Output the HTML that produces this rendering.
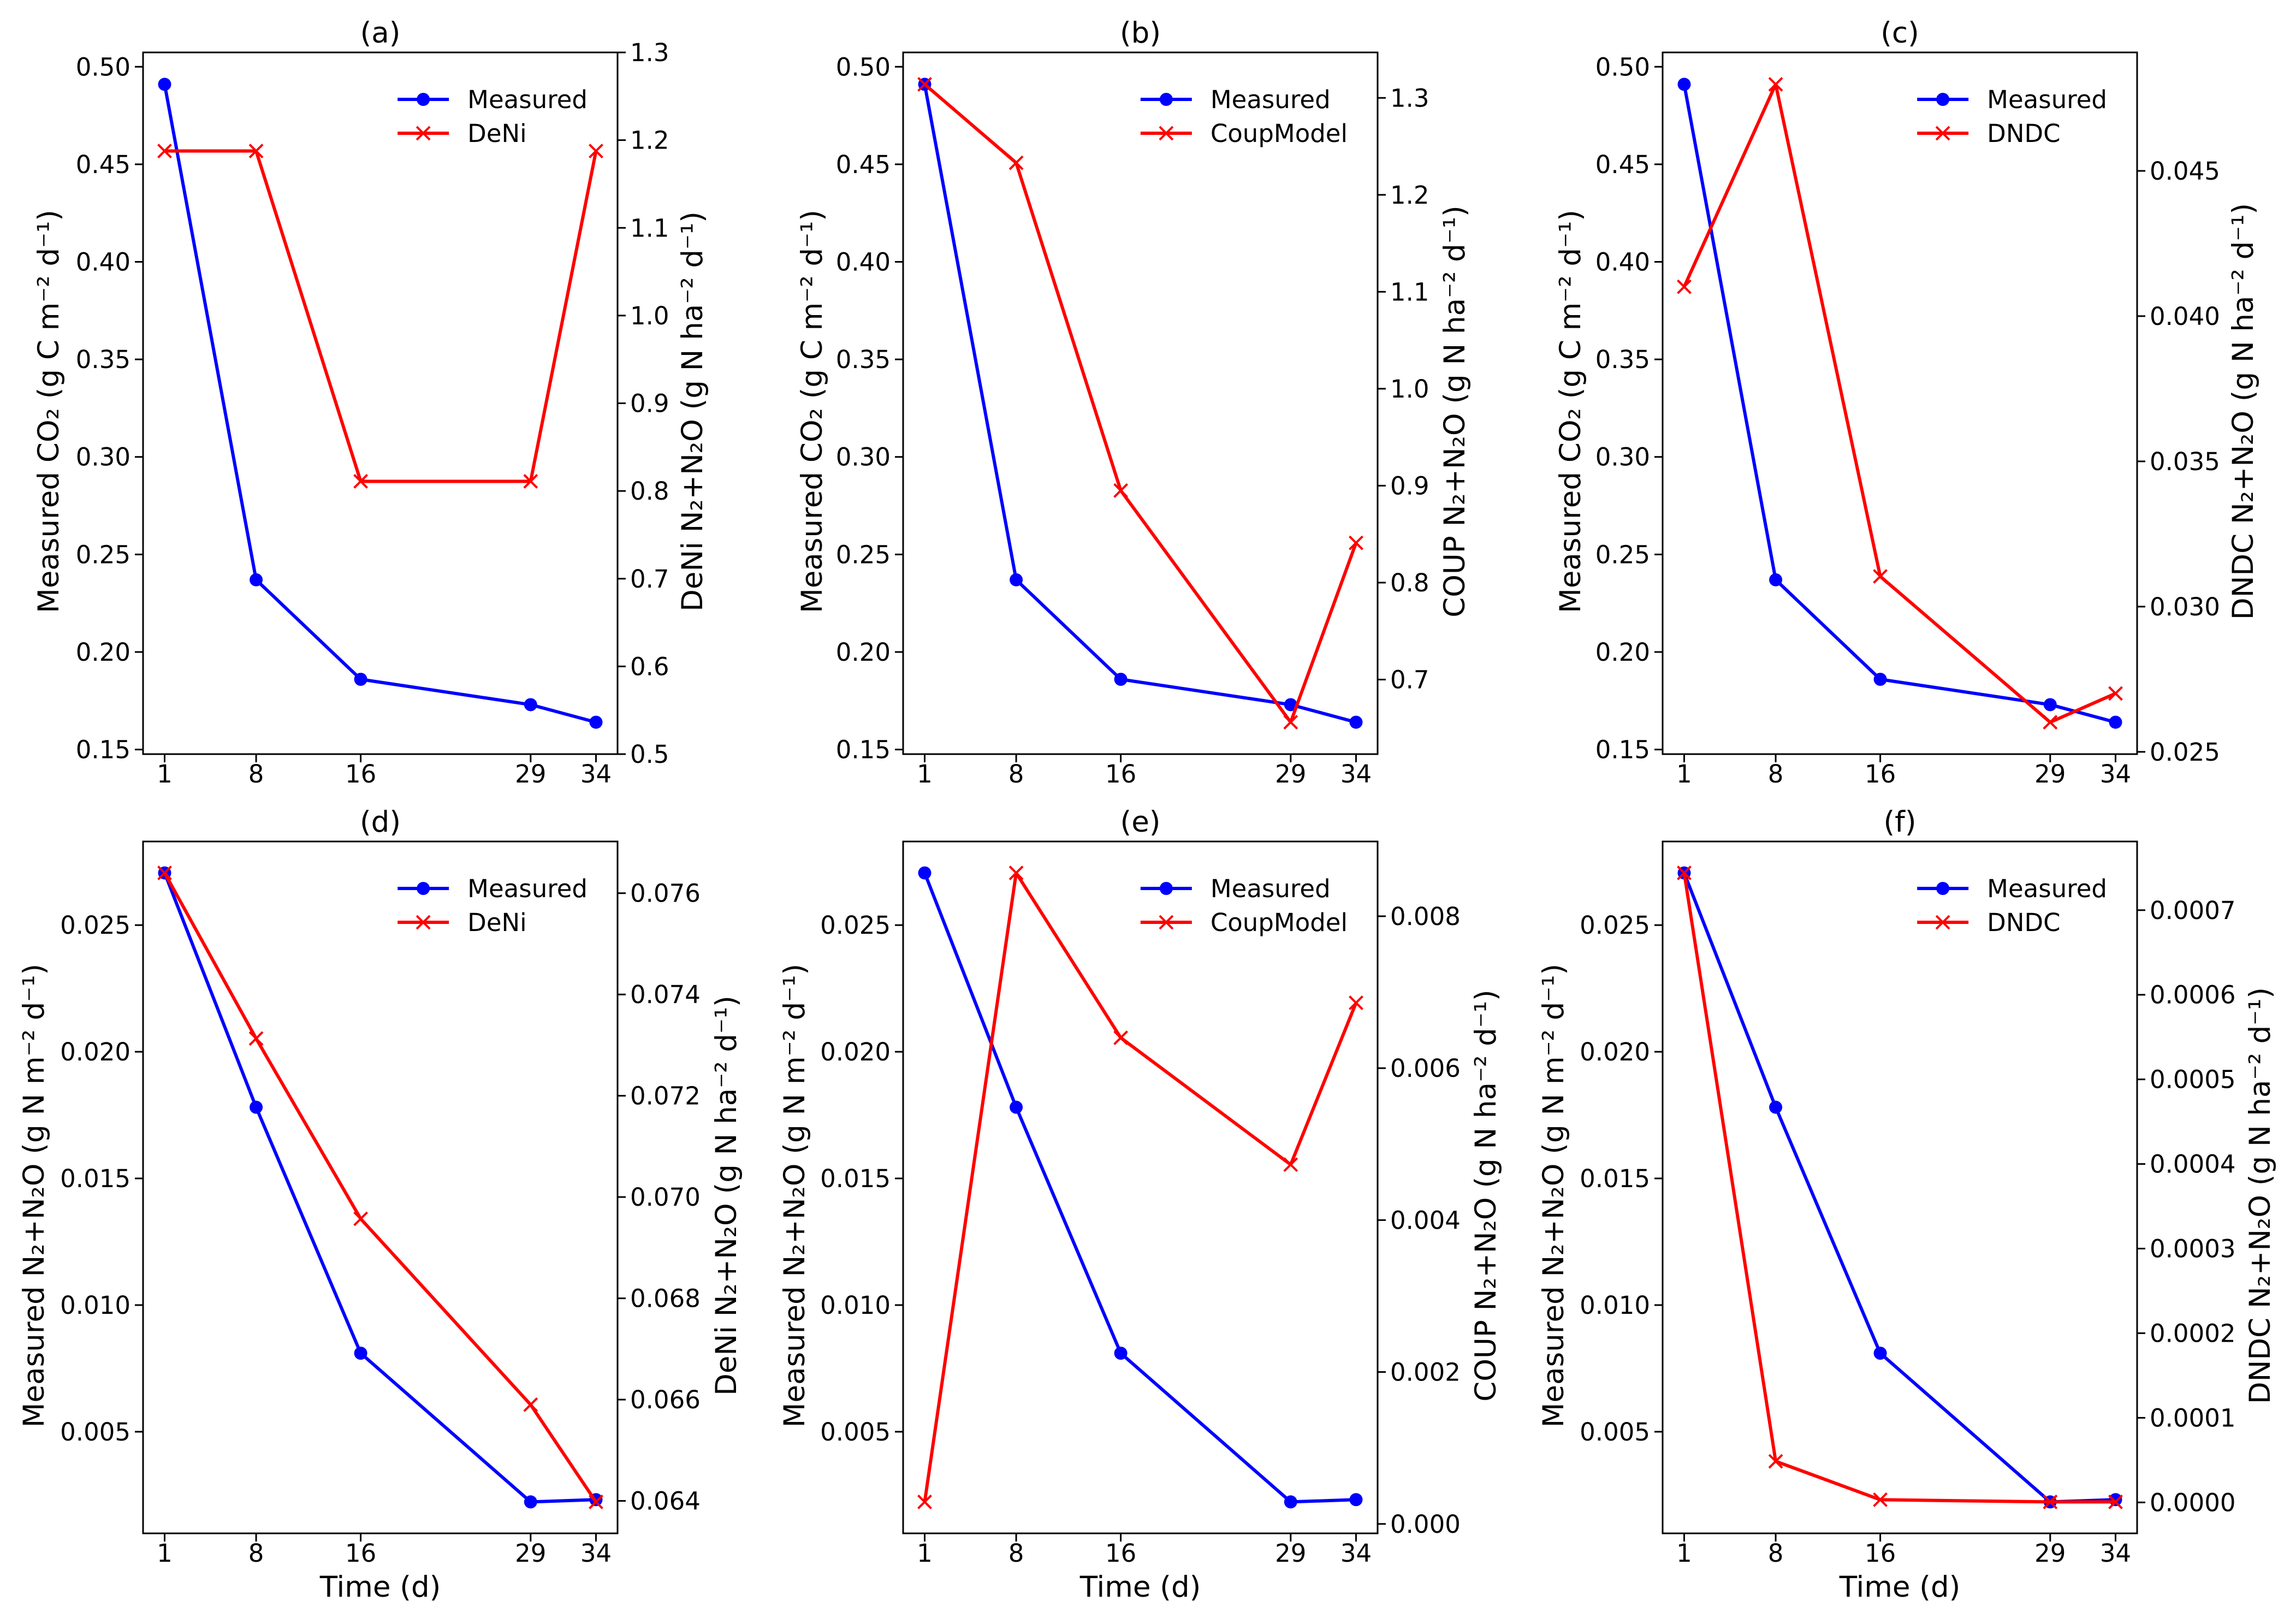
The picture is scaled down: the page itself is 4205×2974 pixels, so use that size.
<!DOCTYPE html>
<html><head><meta charset="utf-8"><style>html,body{margin:0;padding:0;background:#fff}svg{display:block}text{font-family:"DejaVu Sans","Liberation Sans",sans-serif;fill:#000}</style></head>
<body>
<svg id="fig" xmlns="http://www.w3.org/2000/svg" width="4205" height="2974" viewBox="0 0 4205 2974"></svg>
<script>
const days = [1, 8, 16, 29, 34];
const measuredCO2 = [0.491, 0.237, 0.186, 0.173, 0.164];
const measuredN = [0.02706, 0.01781, 0.0081, 0.00223, 0.00232];
const deniCO2 = [1.1876, 1.1876, 0.811, 0.811, 1.1876];
const coupCO2 = [1.314, 1.233, 0.895, 0.656, 0.841];
const dndcCO2 = [0.04101, 0.04798, 0.03104, 0.02602, 0.02701];
const deniN = [0.0764, 0.07313, 0.06957, 0.0659, 0.06398];
const coupN = [0.00029, 0.00857, 0.0064, 0.00473, 0.00686];
const dndcN = [0.000744, 0.0000486, 0.0000032, 0.0000006, 0.0000006];
const ticksCO2 = [0.15, 0.20, 0.25, 0.30, 0.35, 0.40, 0.45, 0.50];
const ticksN = [0.005, 0.010, 0.015, 0.020, 0.025];
const ticksDeniCO2 = [0.5, 0.6, 0.7, 0.8, 0.9, 1.0, 1.1, 1.2, 1.3];
const ticksCoupCO2 = [0.7, 0.8, 0.9, 1.0, 1.1, 1.2, 1.3];
const ticksDndcCO2 = [0.025, 0.030, 0.035, 0.040, 0.045];
const ticksDeniN = [0.064, 0.066, 0.068, 0.070, 0.072, 0.074, 0.076];
const ticksCoupN = [0.000, 0.002, 0.004, 0.006, 0.008];
const ticksDndcN = [0.0000, 0.0001, 0.0002, 0.0003, 0.0004, 0.0005, 0.0006, 0.0007];

const NS = "http://www.w3.org/2000/svg";
const svg = document.getElementById('fig');
function mk(tag, attrs, parent) {
  const e = document.createElementNS(NS, tag);
  for (const k in attrs) e.setAttribute(k, attrs[k]);
  (parent || svg).appendChild(e);
  return e;
}
function autoLim(v) { const lo = Math.min(...v), hi = Math.max(...v), m = (hi - lo) * 0.05; return [lo - m, hi + m]; }

const cols = [262, 1654, 3045];
const W = 869;
const rows = [[96, 1381], [1541, 2808]];
const panels = [
  {id:'a', c:0, r:0, left:measuredCO2, lt:ticksCO2, ld:2, right:deniCO2, rlim:[0.5,1.3], rt:ticksDeniCO2, rd:1, name:'DeNi', llab:'Measured CO₂ (g C m⁻² d⁻¹)', rlab:'DeNi N₂+N₂O (g N ha⁻² d⁻¹)', lo:173, ro:137},
  {id:'b', c:1, r:0, left:measuredCO2, lt:ticksCO2, ld:2, right:coupCO2, rt:ticksCoupCO2, rd:1, name:'CoupModel', llab:'Measured CO₂ (g C m⁻² d⁻¹)', rlab:'COUP N₂+N₂O (g N ha⁻² d⁻¹)', lo:167, ro:141},
  {id:'c', c:2, r:0, left:measuredCO2, lt:ticksCO2, ld:2, right:dndcCO2, rt:ticksDndcCO2, rd:3, name:'DNDC', llab:'Measured CO₂ (g C m⁻² d⁻¹)', rlab:'DNDC N₂+N₂O (g N ha⁻² d⁻¹)', lo:169, ro:194},
  {id:'d', c:0, r:1, left:measuredN, lt:ticksN, ld:3, right:deniN, rt:ticksDeniN, rd:3, name:'DeNi', llab:'Measured N₂+N₂O (g N m⁻² d⁻¹)', rlab:'DeNi N₂+N₂O (g N ha⁻² d⁻¹)', lo:200, ro:199},
  {id:'e', c:1, r:1, left:measuredN, lt:ticksN, ld:3, right:coupN, rt:ticksCoupN, rd:3, name:'CoupModel', llab:'Measured N₂+N₂O (g N m⁻² d⁻¹)', rlab:'COUP N₂+N₂O (g N ha⁻² d⁻¹)', lo:199, ro:198},
  {id:'f', c:2, r:1, left:measuredN, lt:ticksN, ld:3, right:dndcN, rt:ticksDndcN, rd:4, name:'DNDC', llab:'Measured N₂+N₂O (g N m⁻² d⁻¹)', rlab:'DNDC N₂+N₂O (g N ha⁻² d⁻¹)', lo:200, ro:225},
];
const FS = 45, LFS = 53, TL = 15;

panels.forEach(p => {
  const x0 = cols[p.c], x1 = x0 + W, y0 = rows[p.r][0], y1 = rows[p.r][1];
  const g = mk('g', {});
  
  
  const xl = autoLim(days);
  const X = v => x0 + (v - xl[0]) / (xl[1] - xl[0]) * W;
  const ll = autoLim(p.left);
  const YL = v => y1 - (v - ll[0]) / (ll[1] - ll[0]) * (y1 - y0);
  const rl = p.rlim || autoLim(p.right);
  const YR = v => y1 - (v - rl[0]) / (rl[1] - rl[0]) * (y1 - y0);

  const t = mk('text', {x: (x0 + x1) / 2, y: y0 - 18, 'font-size': LFS, 'text-anchor': 'middle'}, g);
  t.textContent = '(' + p.id + ')';
  
  

  days.forEach(d => {
    mk('line', {x1: X(d), x2: X(d), y1: y1, y2: y1 + TL, stroke: '#000', 'stroke-width': 3}, g);
    const tx = mk('text', {x: X(d), y: y1 + 52, 'font-size': FS, 'text-anchor': 'middle'}, g);
    tx.textContent = d;
    
    
  });
  if (p.r === 1) {
    const xt = mk('text', {x: (x0 + x1) / 2, y: 2924, 'font-size': LFS, 'text-anchor': 'middle'}, g);
    xt.textContent = 'Time (d)';
    
    
  }
  p.lt.forEach(v => {
    const y = YL(v);
    mk('line', {x1: x0 - TL, x2: x0, y1: y, y2: y, stroke: '#000', 'stroke-width': 3}, g);
    const tx = mk('text', {x: x0 - TL - 8, y: y + 16, 'font-size': FS, 'text-anchor': 'end'}, g);
    tx.textContent = v.toFixed(p.ld);
    
    
  });
  p.rt.forEach(v => {
    const y = YR(v);
    mk('line', {x1: x1, x2: x1 + TL, y1: y, y2: y, stroke: '#000', 'stroke-width': 3}, g);
    const tx = mk('text', {x: x1 + TL + 8, y: y + 16, 'font-size': FS, 'text-anchor': 'start'}, g);
    tx.textContent = v.toFixed(p.rd);
    
    
  });
  const cy = (y0 + y1) / 2 + 15;
  const la = mk('text', {x: 0, y: 0, 'font-size': LFS, 'text-anchor': 'middle', transform: `translate(${x0 - p.lo + 18},${cy}) rotate(-90)`}, g);
  la.textContent = p.llab;
  
  
  const ra = mk('text', {x: 0, y: 0, 'font-size': LFS, 'text-anchor': 'middle', transform: `translate(${x1 + p.ro + 18},${cy}) rotate(-90)`}, g);
  ra.textContent = p.rlab;
  
  

  const bl = mk('polyline', {points: days.map((d, i) => X(d) + ',' + YL(p.left[i])).join(' '), fill: 'none', stroke: '#0000ff', 'stroke-width': 6, 'stroke-linejoin': 'round'}, g);
  
  
  days.forEach((d, i) => {
    const c = mk('circle', {cx: X(d), cy: YL(p.left[i]), r: 12, fill: '#0000ff'}, g);
    
    
  });
  const rln = mk('polyline', {points: days.map((d, i) => X(d) + ',' + YR(p.right[i])).join(' '), fill: 'none', stroke: '#ff0000', 'stroke-width': 6, 'stroke-linejoin': 'round'}, g);
  
  
  days.forEach((d, i) => {
    const cx = X(d), cyy = YR(p.right[i]), s = 12;
    const m = mk('path', {d: `M${cx - s},${cyy - s}L${cx + s},${cyy + s}M${cx - s},${cyy + s}L${cx + s},${cyy - s}`, stroke: '#ff0000', 'stroke-width': 4}, g);
    
    
  });

  const fr = mk('rect', {x: x0, y: y0, width: W, height: y1 - y0, fill: 'none', stroke: '#000', 'stroke-width': 3}, g);
  
  

  const lg = mk('g', {}, g);
  
  
  const ly1 = y0 + 86, ly2 = ly1 + 62;
  const t1 = mk('text', {x: 0, y: ly1 + 16, 'font-size': FS}, lg);
  t1.textContent = 'Measured';
  const t2 = mk('text', {x: 0, y: ly2 + 16, 'font-size': FS}, lg);
  t2.textContent = p.name;
  const maxLen = Math.max(t1.getComputedTextLength(), t2.getComputedTextLength());
  const tx0 = x1 - 55 - maxLen;
  t1.setAttribute('x', tx0); t2.setAttribute('x', tx0);
  const lx0 = tx0 - 128, lx1 = tx0 - 34;
  mk('line', {x1: lx0, x2: lx1, y1: ly1, y2: ly1, stroke: '#0000ff', 'stroke-width': 6}, lg);
  mk('circle', {cx: (lx0 + lx1) / 2, cy: ly1, r: 12, fill: '#0000ff'}, lg);
  mk('line', {x1: lx0, x2: lx1, y1: ly2, y2: ly2, stroke: '#ff0000', 'stroke-width': 6}, lg);
  const mx = (lx0 + lx1) / 2;
  mk('path', {d: `M${mx - 12},${ly2 - 12}L${mx + 12},${ly2 + 12}M${mx - 12},${ly2 + 12}L${mx + 12},${ly2 - 12}`, stroke: '#ff0000', 'stroke-width': 4}, lg);
});
</script>
</body></html>
